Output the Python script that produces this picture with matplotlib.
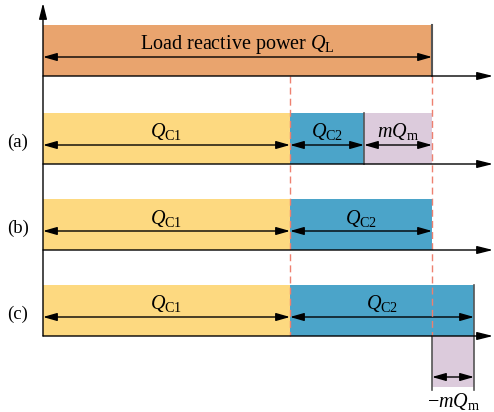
import matplotlib.pyplot as plt

plt.rcParams['font.family'] = 'Liberation Serif'
plt.rcParams['mathtext.fontset'] = 'custom'
plt.rcParams['mathtext.rm'] = 'Liberation Serif'
plt.rcParams['mathtext.it'] = 'Liberation Serif:italic'

# reactive power shares (drawing units, origin at the vertical axis)
x0 = 43
q_load = 389
q_c1 = 247
q_c2 = [74, 142, 184]      # cases (a), (b), (c)
m_qm = [68, 0, -42]        # mQm per case
case_names = ['(a)', '(b)', '(c)']

c_load = '#E9A46E'
c_c1 = '#FDD980'
c_c2 = '#4BA4C9'
c_m = '#DCCBDC'
c_axis = '#555555'
c_dash = '#EE8070'

row_top = [25, 113, 199, 285]
row_h = 51
arrow_dy = 32
text_dy = 19
fs = 14.5

fig = plt.figure(figsize=(4.94, 4.12), dpi=100)
ax = fig.add_axes([0, 0, 1, 1])
ax.set_xlim(0, 494)
ax.set_ylim(412, 0)
ax.axis('off')


def darrow(xa, xb, y):
    ax.annotate('', xy=(xb, y), xytext=(xa, y),
                arrowprops=dict(arrowstyle='<|-|>,head_length=0.7,head_width=0.2',
                                color='black', lw=1.0, shrinkA=0, shrinkB=0,
                                mutation_scale=12))


def axis_arrow(xa, ya, xb, yb):
    ax.annotate('', xy=(xb, yb), xytext=(xa, ya),
                arrowprops=dict(arrowstyle='-|>,head_length=0.8,head_width=0.2',
                                color='black', lw=1.0, shrinkA=0, shrinkB=0,
                                mutation_scale=12), zorder=5)


# load row
yt = row_top[0]
ax.barh(yt + row_h / 2, q_load, left=x0, height=row_h, color=c_load, zorder=1)
ax.plot([x0 + q_load] * 2, [yt, yt + row_h], color=c_axis, lw=1.5, zorder=3)
darrow(x0, x0 + q_load, yt + arrow_dy)
ax.text(x0 + q_load / 2, yt + text_dy, r'Load reactive power $Q_\mathrm{L}$',
        fontsize=fs, ha='center', va='center')

for i in range(3):
    yt = row_top[i + 1]
    yc = yt + row_h / 2
    ya = yt + arrow_dy
    x1 = x0 + q_c1
    x2 = x1 + q_c2[i]
    ax.barh(yc, q_c1, left=x0, height=row_h, color=c_c1, zorder=1)
    ax.barh(yc, q_c2[i], left=x1, height=row_h, color=c_c2, zorder=1)
    darrow(x0, x1, ya)
    darrow(x1, x2, ya)
    ax.text((x0 + x1) / 2, yt + text_dy, r'$Q_\mathrm{C1}$', fontsize=fs,
            ha='center', va='center')
    ax.text((x1 + x2) / 2, yt + text_dy, r'$Q_\mathrm{C2}$', fontsize=fs,
            ha='center', va='center')
    ax.text(18, ya - 3, case_names[i], fontsize=fs - 1, ha='center', va='center')
    if m_qm[i] > 0:
        x3 = x2 + m_qm[i]
        ax.barh(yc, m_qm[i], left=x2, height=row_h, color=c_m, zorder=1)
        ax.plot([x2, x2], [yt, yt + row_h], color=c_axis, lw=1.2, zorder=3)
        darrow(x2, x3, ya)
        ax.text((x2 + x3) / 2, yt + text_dy, r'$mQ_\mathrm{m}$', fontsize=fs,
                ha='center', va='center')
    elif m_qm[i] < 0:
        xr = x2
        xl = x2 + m_qm[i]
        yb = yt + row_h
        ax.bar((xl + xr) / 2, row_h, width=xr - xl, bottom=yb, color=c_m, zorder=1)
        ax.plot([xr, xr], [yt, yb + row_h + 3], color=c_axis, lw=1.2, zorder=3)
        ax.plot([xl, xl], [yb, yb + row_h + 3], color=c_axis, lw=1.2, zorder=3)
        darrow(xl, xr, yb + 41)
        ax.text((xl + xr) / 2 + 1, yb + 65, r'$-mQ_\mathrm{m}$', fontsize=fs,
                ha='center', va='center')

# horizontal axes under each row
for yt in row_top:
    axis_arrow(x0, yt + row_h, 493, yt + row_h)

# vertical axis
axis_arrow(x0, row_top[-1] + row_h, x0, 3)

# red dashed guides at the Q_C1 and Q_L boundaries
for xg in [x0 + q_c1, x0 + q_load]:
    ax.plot([xg, xg], [row_top[0] + row_h, row_top[-1] + row_h], color=c_dash,
            lw=1.0, ls=(0, (5, 3)), zorder=4)

fig.savefig('out.png', dpi=100)
